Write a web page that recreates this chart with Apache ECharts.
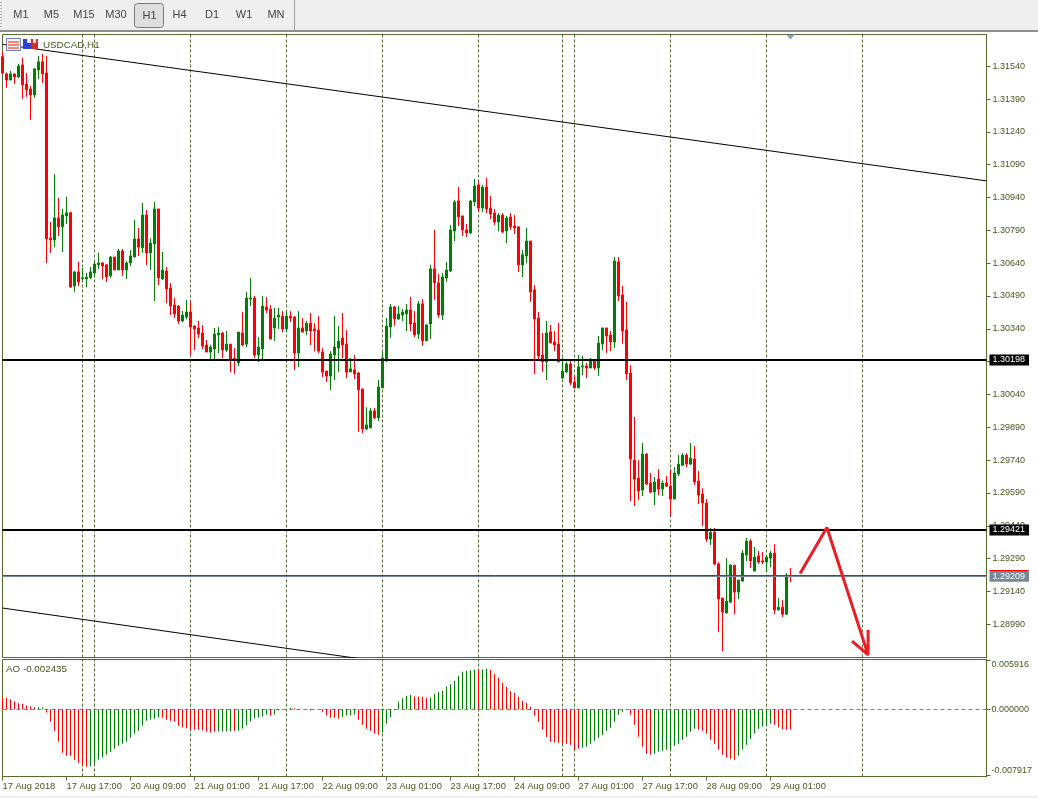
<!DOCTYPE html>
<html>
<head>
<meta charset="utf-8">
<style>html,body{margin:0;padding:0;background:#fff}#c{width:1038px;height:798px}</style>
<script src="https://cdn.jsdelivr.net/npm/echarts@6/dist/echarts.min.js"></script>
</head>
<body>
<div id="c"></div>
<script>
// Prices in points (1 point = 0.00001)
const opens=[131584,131505,131477,131505,131491,131546,131459,131436,131409,131523,131560,131509,130755,130746,130847,130806,130856,130871,130536,130600,130569,130568,130573,130595,130632,130641,130632,130582,130668,130609,130696,130609,130641,130668,130751,130710,130860,130687,130728,130888,130568,130604,130526,130449,130444,130376,130394,130417,130353,130344,130321,130266,130234,130248,130312,130321,130243,130270,130206,130184,130321,130270,130476,130481,130220,130248,130440,130430,130344,130394,130398,130339,130398,130394,130229,130344,130330,130366,130339,130334,130234,130147,130124,130220,130252,130298,130270,130143,130152,130138,130065,129882,129887,129965,129933,130070,130198,130348,130440,130385,130403,130408,130426,130367,130316,130454,130285,130362,130614,130550,130403,130572,130604,130787,130924,130856,130792,130778,130920,130997,130892,130988,130892,130869,130828,130860,130787,130851,130810,130806,130632,130673,130741,130518,130390,130220,130189,130326,130280,130271,130115,130143,130179,130097,130070,130166,130170,130161,130198,130161,130271,130344,130312,130280,130646,130495,130335,130138,129740,129658,129603,129768,129635,129594,129653,129608,129635,129621,129562,129676,129717,129763,129722,129745,129644,129585,129544,129379,129411,129265,129110,129041,129091,129260,129137,129187,129306,129370,129233,129302,129279,129274,129292,129315,129055,129068,129036,129213];
const closes=[131508,131477,131505,131491,131541,131455,131432,131409,131528,131560,131505,130751,130746,130847,130806,130860,130870,130531,130600,130554,130573,130576,130600,130636,130641,130627,130577,130668,130609,130696,130609,130641,130673,130751,130714,130860,130687,130732,130888,130573,130609,130522,130444,130408,130376,130403,130417,130348,130339,130316,130261,130234,130257,130316,130321,130243,130270,130197,130197,130325,130266,130481,130481,130220,130257,130444,130426,130293,130389,130403,130339,130398,130389,130229,130344,130325,130366,130330,130330,130238,130142,130124,130225,130257,130284,130266,130142,130157,130134,130061,129882,129901,129965,129933,130074,130207,130353,130440,130385,130408,130417,130426,130362,130312,130454,130285,130358,130614,130550,130403,130577,130609,130792,130920,130851,130792,130778,130924,130993,130892,130988,130888,130865,130828,130860,130783,130847,130806,130801,130632,130678,130741,130508,130385,130216,130189,130321,130275,130266,130189,130147,130179,130093,130070,130166,130170,130161,130198,130161,130275,130344,130307,130280,130650,130490,130330,130134,129745,129653,129599,129768,129631,129594,129640,129608,129635,129621,129562,129681,129722,129763,129722,129749,129640,129580,129544,129379,129411,129265,129105,129046,129096,129260,129137,129192,129315,129370,129279,129297,129274,129274,129297,129315,129055,129068,129036,129215,129207];
const highs=[131607,131511,131519,131505,131551,131578,131509,131450,131528,131587,131596,131587,130828,131048,130938,130888,130943,130874,130605,130646,130618,130595,130623,130646,130687,130646,130636,130673,130668,130705,130705,130650,130700,130838,130801,130915,130883,130755,130920,130888,130691,130623,130549,130481,130449,130421,130471,130462,130357,130376,130357,130289,130266,130344,130348,130325,130330,130270,130252,130325,130417,130508,130572,130490,130302,130490,130485,130449,130435,130435,130421,130421,130421,130398,130421,130389,130376,130412,130366,130398,130252,130147,130238,130398,130353,130412,130334,130207,130220,130143,130065,129981,129978,129978,130106,130234,130390,130454,130444,130444,130431,130454,130486,130422,130467,130476,130358,130632,130792,130591,130595,130646,130815,130929,130988,130856,130819,130929,131025,131016,130997,131029,130947,130888,130869,130869,130856,130869,130860,130806,130700,130801,130741,130540,130417,130321,130376,130358,130330,130367,130207,130189,130193,130129,130220,130216,130184,130207,130198,130307,130344,130344,130330,130668,130668,130536,130463,130174,129937,129740,129818,129772,129681,129663,129699,129644,129667,129699,129708,129763,129772,129772,129818,129804,129690,129612,129562,129430,129430,129274,129110,129292,129265,129260,129192,129329,129384,129379,129343,129324,129320,129302,129324,129356,129110,129100,129224,129247];
const lows=[131505,131441,131477,131459,131487,131391,131400,131295,131395,131482,131464,130641,130687,130714,130764,130691,130819,130527,130509,130536,130563,130531,130568,130577,130614,130568,130554,130573,130609,130609,130582,130568,130627,130668,130673,130687,130632,130609,130467,130540,130563,130458,130403,130389,130362,130371,130385,130222,130243,130298,130248,130234,130197,130197,130229,130206,130234,130142,130133,130170,130261,130257,130444,130206,130188,130197,130412,130293,130284,130339,130325,130330,130371,130152,130165,130325,130312,130266,130238,130229,130120,130097,130060,130106,130142,130206,130115,130143,130111,129869,129864,129878,129887,129928,129919,130070,130189,130298,130353,130380,130376,130330,130330,130303,130294,130262,130285,130294,130472,130390,130380,130554,130600,130741,130810,130764,130760,130774,130901,130879,130874,130869,130842,130815,130787,130778,130732,130792,130774,130600,130577,130641,130463,130134,130202,130143,130106,130275,130239,130189,130111,130138,130083,130070,130070,130129,130115,130161,130152,130125,130243,130230,130239,130253,130467,130271,130106,129553,129530,129557,129576,129626,129589,129535,129580,129576,129617,129484,129562,129667,129713,129708,129717,129626,129539,129439,129366,129352,129260,128954,128867,129041,129087,129036,129105,129187,129279,129247,129233,129265,129265,129228,129251,129036,129055,129023,129032,129183];
// Awesome Oscillator, millionths
const aoValues=[1403,1363,1203,922,722,642,441,321,241,241,241,-401,-1524,-2607,-3930,-5253,-5614,-5614,-6095,-6456,-6697,-6937,-6857,-6576,-6095,-5815,-5494,-5133,-4772,-4411,-4170,-3930,-3449,-2967,-2607,-2005,-1404,-1243,-1163,-1003,-1043,-1283,-1404,-1484,-2005,-2165,-2286,-2406,-2486,-2486,-2526,-2727,-2847,-2727,-2727,-2687,-2687,-2647,-2607,-2607,-2326,-1925,-1484,-1083,-1003,-842,-642,-802,-642,-160,-40,-20,160,120,40,20,10,-160,-40,-20,-321,-762,-1043,-1043,-1123,-962,-762,-722,-642,-1283,-1885,-2366,-2607,-2967,-3088,-2807,-1764,-962,-120,882,1323,1604,1724,1524,1524,1484,1363,1363,1845,2085,2206,2727,3008,3409,4010,4491,4612,4692,4732,4732,4772,4852,4732,4251,3769,3168,2687,2165,1965,1484,1003,762,281,-802,-1524,-2486,-3328,-3930,-4010,-4050,-4170,-4170,-4291,-4892,-4772,-4652,-4531,-4170,-3810,-3449,-3088,-2607,-2246,-1524,-682,-321,-40,-682,-1885,-3328,-4531,-5373,-5494,-5373,-5133,-5013,-4892,-4812,-4411,-4170,-3689,-3328,-2727,-2366,-2486,-2607,-2967,-3689,-4170,-4892,-5494,-5855,-5975,-6095,-5614,-4892,-4291,-3569,-2927,-2366,-2125,-2005,-1764,-1885,-2165,-2406,-2486,-2435];
// u = rising (green), d = falling (red), one per bar
const aoDirections='ddddddddd'+'uu'+'ddddddddddd'+'uuuuuuuuuuuuuuuuuu'+'dddddddddddddd'+'uuuu'+'d'+'u'+'uuuuuuu'+'d'+'uu'+'uu'+'u'+'d'+'ddd'+'d'+'dd'+'d'+'dddd'+'uuuu'+'dddddd'+'uuuuu'+'uuu'+'dddd'+'uuuuuuuuuuuu'+'d'+'uu'+'ddddddddddddddddddddddd'+'uuuuuuuuuuu'+'d'+'dddddd'+'uuuu'+'uuuuuuu'+'dddddddddd'+'uuuuuuuuu'+'ddddd';

const tickLabels=['17 Aug 2018','17 Aug 17:00','20 Aug 09:00','21 Aug 01:00','21 Aug 17:00','22 Aug 09:00','23 Aug 01:00','23 Aug 17:00','24 Aug 09:00','27 Aug 01:00','27 Aug 17:00','28 Aug 09:00','29 Aug 01:00'];
const labelStep=16;
const chartSlots=247;
const categories=Array.from({length:chartSlots},(_,i)=>tickLabels[i/labelStep]||'');
const xTickIndexes=tickLabels.map((_,i)=>i*labelStep);
const periodSeparators=[20,23,47,71,95,119,140,143,167,191,215];
const priceTicks=[1.3154,1.3139,1.3124,1.3109,1.3094,1.3079,1.3064,1.3049,1.3034,1.3019,1.3004,1.2989,1.2974,1.2959,1.2944,1.2929,1.2914,1.2899];
const levelPrices=[1.30198,1.29421];
const bidPrice=1.29209;
const askLinePrice=1.29213;
const askMarkPrice=1.29236;
const aoTicks=[-0.007917,0,0.005916];
const trendUpper=[[0,1.3164],[246,1.31016]];
const trendLower=[[0,1.29064],[120,1.28753]];
const handArrow=[[199.4,1.29222],[206.1,1.29432],[216.4,1.2885],[212.4,1.28913],[216.4,1.2885],[216.4,1.28964]];
const shiftMarker=[[197,1.31674]];
const aoTitle='AO -0.002435';
const chartTitle='USDCAD,H1';
const timeframes=['M1','M5','M15','M30','H1','H4','D1','W1','MN'];
const timeframeCentres=[21,51.5,84,116,149.5,179.5,212,244,276];
const activeTimeframe='H1';

const OLIVE='#556B2F',INK='#455A20',GREEN='#008000',RED='#FF0000',SLATE='#778899';
const FONT='"Liberation Sans",Arial,sans-serif', FS=9.3, FSY=9, FST=9.8;
const P=v=>v/1e5;
const ohlc=opens.map((o,i)=>[P(o),P(closes[i]),P(lows[i]),P(highs[i])]);
const ao=aoValues.map(v=>v/1e6);
const aoUp=ao.map((v,i)=>aoDirections[i]==='u'?v:null);
const aoDown=ao.map((v,i)=>aoDirections[i]==='d'?v:null);

const yLabelValues=priceTicks.concat(levelPrices,[bidPrice,askMarkPrice]);
const fmtPrice=v=>{
  const s=v.toFixed(5);
  if(levelPrices.some(l=>Math.abs(l-v)<1e-7))return '{black|'+s+'}';
  if(Math.abs(bidPrice-v)<1e-7)return '{slate|'+s+'}';
  if(Math.abs(askMarkPrice-v)<1e-7)return '{ask| }';
  return '{t|'+s+'}';
};
const lineNoMark=(arr,o)=>Object.assign({type:'line',data:arr,symbol:'none',silent:true,animation:false},o);

const toolbar=[
 {type:'rect',shape:{x:0,y:0,width:1038,height:31},style:{fill:'#EFEFEF'},silent:true},
 {type:'rect',shape:{x:0,y:30,width:1038,height:2},style:{fill:'#8E8E8E'},silent:true},
 {type:'rect',shape:{x:0,y:796,width:1038,height:2},style:{fill:'#EFEFEF'},silent:true},
 {type:'rect',shape:{x:294,y:0,width:1,height:30},style:{fill:'#A0A0A0'},silent:true},
 {type:'line',shape:{x1:1,y1:2,x2:1,y2:28},style:{stroke:'#B0B0B0',lineWidth:2,lineDash:[1,2]},silent:true},
 {type:'rect',shape:{x:134.5,y:3.5,width:29,height:24,r:3},style:{fill:'#DEDEDE',stroke:'#7A7A7A',lineWidth:1},silent:true}
];
timeframes.forEach((t,i)=>toolbar.push({type:'text',style:{text:t,x:timeframeCentres[i],y:t===activeTimeframe?16:15,align:'center',verticalAlign:'middle',font:'11px '+FONT,fill:'#444'},silent:true}));
const icons=[
 {type:'rect',shape:{x:6.5,y:38.5,width:14,height:12},style:{fill:'#F4F4F8',stroke:'#6F7FB5',lineWidth:1},z:50,silent:true},
 {type:'rect',shape:{x:8,y:41,width:11,height:2},style:{fill:'#F08878'},z:50,silent:true},
 {type:'rect',shape:{x:8,y:44,width:11,height:2},style:{fill:'#F08878'},z:50,silent:true},
 {type:'rect',shape:{x:8,y:47,width:11,height:2},style:{fill:'#F08878'},z:50,silent:true},
 {type:'rect',shape:{x:23,y:39,width:8,height:10},style:{fill:'#2B3FD0'},z:50,silent:true},
 {type:'rect',shape:{x:31,y:39,width:7,height:10},style:{fill:'#C8322A'},z:50,silent:true},
 {type:'rect',shape:{x:27,y:39,width:4,height:4},style:{fill:'#E8E8F4'},z:50,silent:true},
 {type:'rect',shape:{x:33,y:39,width:3,height:4},style:{fill:'#F0D8D0'},z:50,silent:true}
];

const chart=echarts.init(document.getElementById('c'),null,{renderer:'canvas'});
chart.setOption({
 animation:false,
 backgroundColor:'#fff',
 textStyle:{fontFamily:FONT},
 title:[
  {text:chartTitle,left:43,top:40,padding:0,textStyle:{color:INK,fontSize:FST,fontWeight:'normal',fontFamily:FONT}},
  {text:aoTitle,left:6,top:664,padding:0,textStyle:{color:INK,fontSize:FST,fontWeight:'normal',fontFamily:FONT}}
 ],
 graphic:{elements:toolbar.concat(icons)},
 grid:[
  {left:2.5,top:34.5,width:984,height:623,show:true,outerBoundsMode:'none',borderColor:OLIVE,borderWidth:1,backgroundColor:'#fff'},
  {left:2.5,top:659.5,width:984,height:117,show:true,outerBoundsMode:'none',borderColor:OLIVE,borderWidth:1,backgroundColor:'#fff'}
 ],
 xAxis:[
  {type:'category',gridIndex:0,data:categories,boundaryGap:false,axisLine:{show:false,onZero:false},axisTick:{show:false},axisLabel:{show:false},splitLine:{show:false}},
  {type:'category',gridIndex:1,data:categories,boundaryGap:false,position:'bottom',
   axisLine:{show:true,onZero:false,lineStyle:{color:OLIVE}},
   axisTick:{show:true,length:4,lineStyle:{color:OLIVE},customValues:xTickIndexes},
   axisLabel:{show:true,customValues:xTickIndexes,color:INK,fontSize:FS,fontFamily:FONT,align:'left',margin:5,showMinLabel:true,showMaxLabel:true,hideOverlap:false},
   splitLine:{show:false}},
  {type:'value',gridIndex:0,min:0,max:chartSlots-1,show:false,axisLine:{onZero:false},splitLine:{show:false}},
  {type:'value',gridIndex:1,min:0,max:chartSlots-1,show:false,axisLine:{onZero:false},splitLine:{show:false}}
 ],
 yAxis:[
  {type:'value',gridIndex:0,position:'right',min:1.28838,max:1.31685,scale:true,
   axisLine:{show:true,onZero:false,lineStyle:{color:OLIVE}},
   axisTick:{show:true,length:4,lineStyle:{color:OLIVE},customValues:priceTicks},
   axisLabel:{show:true,customValues:yLabelValues,margin:3,hideOverlap:false,fontFamily:FONT,fontSize:FSY,formatter:fmtPrice,
    rich:{
     t:{color:INK,fontSize:FSY,fontFamily:FONT,padding:[0,3,0,3]},
     black:{color:'#fff',backgroundColor:'#000',fontSize:FSY,fontFamily:FONT,padding:[1,4,1,3]},
     slate:{color:'#fff',backgroundColor:SLATE,fontSize:FSY,fontFamily:FONT,padding:[1,4,1,3]},
     ask:{backgroundColor:RED,width:39,height:1,lineHeight:1,fontSize:1}
    }},
   splitLine:{show:false}},
  {type:'value',gridIndex:1,position:'right',min:-0.008097,max:0.005976,
   axisLine:{show:true,onZero:false,lineStyle:{color:OLIVE}},
   axisTick:{show:true,length:4,lineStyle:{color:OLIVE},customValues:aoTicks},
   axisLabel:{show:true,customValues:aoTicks,margin:5,color:INK,fontSize:FSY,fontFamily:FONT,hideOverlap:false,
    verticalAlignMaxLabel:'top',verticalAlignMinLabel:'bottom',
    formatter:v=>v.toFixed(6)},
   splitLine:{show:false}}
 ],
 series:[
  lineNoMark([],{xAxisIndex:2,yAxisIndex:0,z:1,markLine:{silent:true,z:1,symbol:'none',animation:false,label:{show:false},
    lineStyle:{color:OLIVE,width:1,type:[3,2]},data:periodSeparators.map(v=>({xAxis:v}))}}),
  lineNoMark([],{xAxisIndex:3,yAxisIndex:1,z:1,markLine:{silent:true,z:1,symbol:'none',animation:false,label:{show:false},
    lineStyle:{color:OLIVE,width:1,type:[3,2]},data:periodSeparators.map(v=>({xAxis:v}))}}),
  {type:'candlestick',name:'USDCAD,H1',xAxisIndex:0,yAxisIndex:0,data:ohlc,barWidth:2,silent:true,animation:false,z:3,
   itemStyle:{color:GREEN,color0:RED,borderColor:GREEN,borderColor0:RED,borderWidth:1}},
  lineNoMark([],{xAxisIndex:0,yAxisIndex:0,z:4,markLine:{silent:true,z:4,symbol:'none',precision:6,animation:false,label:{show:false},data:[
    ...levelPrices.map(v=>({yAxis:v,lineStyle:{color:'#000',width:2,type:'solid'}})),
    {yAxis:bidPrice,lineStyle:{color:SLATE,width:1,type:'solid'}},
    {yAxis:askLinePrice,lineStyle:{color:RED,width:1,type:'solid'}}
   ]}}),
  lineNoMark(trendUpper,{xAxisIndex:2,yAxisIndex:0,z:4,lineStyle:{color:'#000',width:1}}),
  lineNoMark(trendLower,{xAxisIndex:2,yAxisIndex:0,z:4,lineStyle:{color:'#000',width:1},clip:true}),
  lineNoMark(handArrow,{xAxisIndex:2,yAxisIndex:0,z:6,lineStyle:{color:'#ED1C24',width:3,join:'bevel'}}),
  {type:'scatter',xAxisIndex:2,yAxisIndex:0,data:shiftMarker,symbol:'triangle',symbolRotate:180,symbolSize:[9,5],itemStyle:{color:SLATE},silent:true,animation:false,z:7},
  {type:'bar',name:'AO up',xAxisIndex:1,yAxisIndex:1,data:aoUp,barWidth:1,barGap:'-100%',itemStyle:{color:GREEN},silent:true,animation:false,z:3},
  {type:'bar',name:'AO down',xAxisIndex:1,yAxisIndex:1,data:aoDown,barWidth:1,barGap:'-100%',itemStyle:{color:RED},silent:true,animation:false,z:3},
  lineNoMark([],{xAxisIndex:3,yAxisIndex:1,z:2,markLine:{silent:true,z:2,symbol:'none',precision:6,animation:false,label:{show:false},
    lineStyle:{color:SLATE,width:1,type:[4,3]},data:[{yAxis:0}]}})
 ]
});
</script>
</body>
</html>
